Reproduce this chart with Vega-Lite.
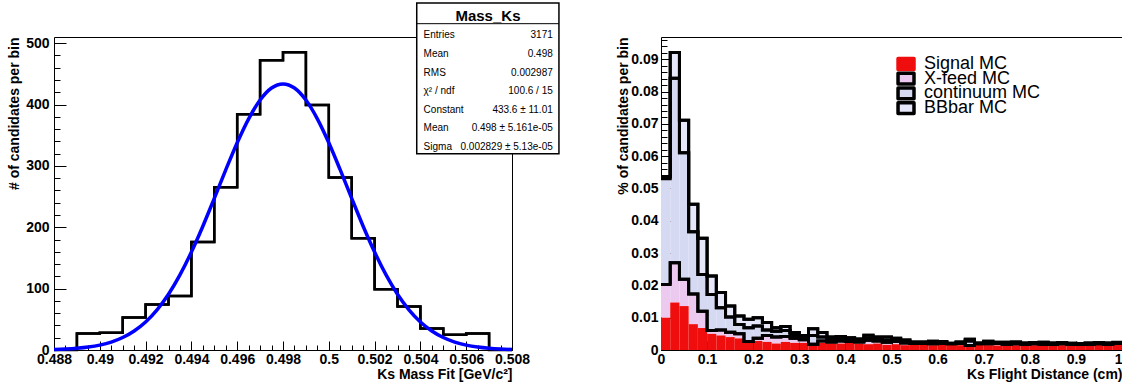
{
  "$schema": "https://vega.github.io/schema/vega-lite/v6.json",
  "background": "white",
  "padding": {"left": 7, "top": 1, "right": 0, "bottom": 0},
  "bounds": "flush",
  "spacing": 149,
  "config": {
    "font": "Liberation Sans",
    "view": {"stroke": "black", "strokeWidth": 1},
    "axis": {
      "grid": false, "domain": false, "labelOverlap": false, "labelFlush": false,
      "labelFont": "Liberation Sans", "labelFontSize": 14, "labelFontWeight": "bold", "labelColor": "black",
      "titleFont": "Liberation Sans", "titleFontSize": 14, "titleFontWeight": "bold", "titleColor": "black",
      "tickColor": "black", "tickWidth": 1
    },
    "text": {"font": "Liberation Sans", "color": "black"}
  },
  "hconcat": [
    {
      "width": 458,
      "height": 313,
      "data": {"values": [
        {"lo": 0.488, "hi": 0.489, "n": 0},
        {"lo": 0.489, "hi": 0.490, "n": 27},
        {"lo": 0.490, "hi": 0.491, "n": 28},
        {"lo": 0.491, "hi": 0.492, "n": 53},
        {"lo": 0.492, "hi": 0.493, "n": 74},
        {"lo": 0.493, "hi": 0.494, "n": 88},
        {"lo": 0.494, "hi": 0.495, "n": 176},
        {"lo": 0.495, "hi": 0.496, "n": 265},
        {"lo": 0.496, "hi": 0.497, "n": 384},
        {"lo": 0.497, "hi": 0.498, "n": 472},
        {"lo": 0.498, "hi": 0.499, "n": 485},
        {"lo": 0.499, "hi": 0.500, "n": 399},
        {"lo": 0.500, "hi": 0.501, "n": 281},
        {"lo": 0.501, "hi": 0.502, "n": 182},
        {"lo": 0.502, "hi": 0.503, "n": 99},
        {"lo": 0.503, "hi": 0.504, "n": 71},
        {"lo": 0.504, "hi": 0.505, "n": 35},
        {"lo": 0.505, "hi": 0.506, "n": 25},
        {"lo": 0.506, "hi": 0.507, "n": 27},
        {"lo": 0.507, "hi": 0.508, "n": 0}
      ]},
      "resolve": {"scale": {"y": "independent"}, "axis": {"x": "independent", "y": "independent"}},
      "layer": [
        {
          "mark": {"type": "line", "interpolate": "step-after", "color": "black", "strokeWidth": 2.5},
          "encoding": {
            "x": {"field": "lo", "type": "quantitative",
              "scale": {"domain": [0.488, 0.508], "nice": false, "zero": false},
              "axis": {"orient": "bottom", "values": [0.488, 0.49, 0.492, 0.494, 0.496, 0.498, 0.5, 0.502, 0.504, 0.506, 0.508],
                "format": "~g", "tickSize": -9, "labelPadding": 11, "title": "Ks Mass Fit [GeV/c²]", "titleAnchor": "end", "titlePadding": 1}},
            "y": {"field": "n", "type": "quantitative",
              "scale": {"domain": [0, 510], "nice": false, "zero": true},
              "axis": {"orient": "left", "values": [0, 100, 200, 300, 400, 500], "tickSize": -12, "labelPadding": 17,
                "title": "# of candidates per bin", "titleAnchor": "end", "titlePadding": 4}}
          }
        },
        {
          "mark": {"type": "line", "interpolate": "step-before", "color": "black", "strokeWidth": 2.5},
          "encoding": {
            "x": {"field": "hi", "type": "quantitative",
              "scale": {"domain": [0.488, 0.508], "nice": false, "zero": false},
              "axis": {"orient": "bottom", "values": [0.488,0.4885,0.489,0.4895,0.49,0.4905,0.491,0.4915,0.492,0.4925,0.493,0.4935,0.494,0.4945,0.495,0.4955,0.496,0.4965,0.497,0.4975,0.498,0.4985,0.499,0.4995,0.5,0.5005,0.501,0.5015,0.502,0.5025,0.503,0.5035,0.504,0.5045,0.505,0.5055,0.506,0.5065,0.507,0.5075,0.508],
                "tickSize": -5, "labels": false, "title": null}},
            "y": {"field": "n", "type": "quantitative",
              "scale": {"domain": [0, 510], "nice": false, "zero": true},
              "axis": {"orient": "left", "values": [0,20,40,60,80,100,120,140,160,180,200,220,240,260,280,300,320,340,360,380,400,420,440,460,480,500],
                "tickSize": -6, "labels": false, "title": null}}
          }
        },
        {
          "data": {"values": [
            {"m": 0.488, "f": 0.84}, {"m": 0.4885, "f": 1.54}, {"m": 0.489, "f": 2.75}, {"m": 0.4895, "f": 4.75},
            {"m": 0.49, "f": 7.96}, {"m": 0.4905, "f": 12.9}, {"m": 0.491, "f": 20.3}, {"m": 0.4915, "f": 31.0},
            {"m": 0.492, "f": 45.7}, {"m": 0.4925, "f": 65.5}, {"m": 0.493, "f": 90.9}, {"m": 0.4935, "f": 122.4},
            {"m": 0.494, "f": 159.6}, {"m": 0.4945, "f": 201.7}, {"m": 0.495, "f": 247.1}, {"m": 0.4955, "f": 293.4},
            {"m": 0.496, "f": 337.7}, {"m": 0.4965, "f": 376.7}, {"m": 0.497, "f": 407.3}, {"m": 0.4975, "f": 426.9},
            {"m": 0.498, "f": 433.6},
            {"m": 0.4985, "f": 426.9}, {"m": 0.499, "f": 407.3}, {"m": 0.4995, "f": 376.7}, {"m": 0.5, "f": 337.7},
            {"m": 0.5005, "f": 293.4}, {"m": 0.501, "f": 247.1}, {"m": 0.5015, "f": 201.7}, {"m": 0.502, "f": 159.6},
            {"m": 0.5025, "f": 122.4}, {"m": 0.503, "f": 90.9}, {"m": 0.5035, "f": 65.5}, {"m": 0.504, "f": 45.7},
            {"m": 0.5045, "f": 31.0}, {"m": 0.505, "f": 20.3}, {"m": 0.5055, "f": 12.9}, {"m": 0.506, "f": 7.96},
            {"m": 0.5065, "f": 4.75}, {"m": 0.507, "f": 2.75}, {"m": 0.5075, "f": 1.54}, {"m": 0.508, "f": 0.84}
          ]},
          "mark": {"type": "line", "interpolate": "monotone", "color": "#0000ff", "strokeWidth": 3.5},
          "encoding": {
            "x": {"field": "m", "type": "quantitative", "scale": {"domain": [0.488, 0.508], "nice": false, "zero": false}, "axis": null},
            "y": {"field": "f", "type": "quantitative", "scale": {"domain": [0, 510], "nice": false, "zero": true}, "axis": null}
          }
        },
        {
          "data": {"values": [{"title": "Mass_Ks"}]},
          "layer": [
            {
              "mark": {"type": "rect", "fill": "white", "stroke": "black", "strokeWidth": 1.5},
              "encoding": {
                "x": {"datum": 0.50384, "type": "quantitative", "scale": {"domain": [0.488, 0.508], "nice": false, "zero": false}, "axis": null},
                "x2": {"datum": 0.51005},
                "y": {"datum": 565.4, "type": "quantitative", "scale": {"domain": [0, 510], "nice": false, "zero": true}, "axis": null},
                "y2": {"datum": 319.9}
              }
            },
            {
              "mark": {"type": "rule", "color": "black", "strokeWidth": 1},
              "encoding": {
                "x": {"datum": 0.50384, "type": "quantitative", "scale": {"domain": [0.488, 0.508], "nice": false, "zero": false}, "axis": null},
                "x2": {"datum": 0.51005},
                "y": {"datum": 531.7, "type": "quantitative", "scale": {"domain": [0, 510], "nice": false, "zero": true}, "axis": null}
              }
            },
            {
              "mark": {"type": "text", "fontSize": 15, "fontWeight": "bold", "align": "center", "baseline": "middle"},
              "encoding": {
                "x": {"datum": 0.50695, "type": "quantitative", "scale": {"domain": [0.488, 0.508], "nice": false, "zero": false}, "axis": null},
                "y": {"datum": 544.2, "type": "quantitative", "scale": {"domain": [0, 510], "nice": false, "zero": true}, "axis": null},
                "text": {"field": "title"}
              }
            }
          ]
        },
        {
          "data": {"values": [
            {"row": 1, "label": "Entries", "value": "3171"},
            {"row": 2, "label": "Mean", "value": "0.498"},
            {"row": 3, "label": "RMS", "value": "0.002987"},
            {"row": 4, "label": "χ² / ndf", "value": "100.6 / 15"},
            {"row": 5, "label": "Constant", "value": "433.6 ± 11.01"},
            {"row": 6, "label": "Mean", "value": "0.498 ± 5.161e-05"},
            {"row": 7, "label": "Sigma", "value": "0.002829 ± 5.13e-05"}
          ]},
          "layer": [
            {
              "mark": {"type": "text", "fontSize": 10, "align": "left", "baseline": "middle"},
              "encoding": {
                "x": {"datum": 0.50414, "type": "quantitative", "scale": {"domain": [0.488, 0.508], "nice": false, "zero": false}, "axis": null},
                "y": {"field": "row", "type": "quantitative", "scale": {"domain": [1.0914, 17.919], "reverse": true, "nice": false, "zero": false}, "axis": null},
                "text": {"field": "label"}
              }
            },
            {
              "mark": {"type": "text", "fontSize": 10, "align": "right", "baseline": "middle"},
              "encoding": {
                "x": {"datum": 0.50978, "type": "quantitative", "scale": {"domain": [0.488, 0.508], "nice": false, "zero": false}, "axis": null},
                "y": {"field": "row", "type": "quantitative", "scale": {"domain": [1.0914, 17.919], "reverse": true, "nice": false, "zero": false}, "axis": null},
                "text": {"field": "value"}
              }
            }
          ]
        }
      ]
    },
    {
      "width": 461,
      "height": 313,
      "data": {"values": [
        {"lo": 0.00, "hi": 0.02, "sig": 0.0100, "xf": 0.0203, "cont": 0.0530, "tot": 0.0537},
        {"lo": 0.02, "hi": 0.04, "sig": 0.0147, "xf": 0.0270, "cont": 0.0841, "tot": 0.0921},
        {"lo": 0.04, "hi": 0.06, "sig": 0.0136, "xf": 0.0219, "cont": 0.0611, "tot": 0.0711},
        {"lo": 0.06, "hi": 0.08, "sig": 0.0080, "xf": 0.0173, "cont": 0.0366, "tot": 0.0451},
        {"lo": 0.08, "hi": 0.10, "sig": 0.0068, "xf": 0.0120, "cont": 0.0234, "tot": 0.0346},
        {"lo": 0.10, "hi": 0.12, "sig": 0.0050, "xf": 0.0060, "cont": 0.0172, "tot": 0.0229},
        {"lo": 0.12, "hi": 0.14, "sig": 0.0045, "xf": 0.0062, "cont": 0.0131, "tot": 0.0178},
        {"lo": 0.14, "hi": 0.16, "sig": 0.0040, "xf": 0.0055, "cont": 0.0102, "tot": 0.0136},
        {"lo": 0.16, "hi": 0.18, "sig": 0.0036, "xf": 0.0050, "cont": 0.0079, "tot": 0.0105},
        {"lo": 0.18, "hi": 0.20, "sig": 0.0023, "xf": 0.0026, "cont": 0.0069, "tot": 0.0095},
        {"lo": 0.20, "hi": 0.22, "sig": 0.0028, "xf": 0.0036, "cont": 0.0074, "tot": 0.0100},
        {"lo": 0.22, "hi": 0.24, "sig": 0.0025, "xf": 0.0045, "cont": 0.0062, "tot": 0.0085},
        {"lo": 0.24, "hi": 0.26, "sig": 0.0020, "xf": 0.0040, "cont": 0.0058, "tot": 0.0069},
        {"lo": 0.26, "hi": 0.28, "sig": 0.0025, "xf": 0.0042, "cont": 0.0060, "tot": 0.0073},
        {"lo": 0.28, "hi": 0.30, "sig": 0.0022, "xf": 0.0036, "cont": 0.0045, "tot": 0.0054},
        {"lo": 0.30, "hi": 0.32, "sig": 0.0022, "xf": 0.0032, "cont": 0.0040, "tot": 0.0045},
        {"lo": 0.32, "hi": 0.34, "sig": 0.0015, "xf": 0.0018, "cont": 0.0045, "tot": 0.0066},
        {"lo": 0.34, "hi": 0.36, "sig": 0.0022, "xf": 0.0028, "cont": 0.0040, "tot": 0.0054},
        {"lo": 0.36, "hi": 0.38, "sig": 0.0021, "xf": 0.0025, "cont": 0.0033, "tot": 0.0040},
        {"lo": 0.38, "hi": 0.40, "sig": 0.0020, "xf": 0.0028, "cont": 0.0035, "tot": 0.0042},
        {"lo": 0.40, "hi": 0.42, "sig": 0.0022, "xf": 0.0026, "cont": 0.0030, "tot": 0.0038},
        {"lo": 0.42, "hi": 0.44, "sig": 0.0020, "xf": 0.0025, "cont": 0.0028, "tot": 0.0034},
        {"lo": 0.44, "hi": 0.46, "sig": 0.0018, "xf": 0.0030, "cont": 0.0036, "tot": 0.0046},
        {"lo": 0.46, "hi": 0.48, "sig": 0.0020, "xf": 0.0028, "cont": 0.0033, "tot": 0.0040},
        {"lo": 0.48, "hi": 0.50, "sig": 0.0016, "xf": 0.0024, "cont": 0.0030, "tot": 0.0040},
        {"lo": 0.50, "hi": 0.52, "sig": 0.0018, "xf": 0.0026, "cont": 0.0028, "tot": 0.0036},
        {"lo": 0.52, "hi": 0.54, "sig": 0.0015, "xf": 0.0022, "cont": 0.0026, "tot": 0.0031},
        {"lo": 0.54, "hi": 0.56, "sig": 0.0017, "xf": 0.0020, "cont": 0.0022, "tot": 0.0025},
        {"lo": 0.56, "hi": 0.58, "sig": 0.0016, "xf": 0.0020, "cont": 0.0021, "tot": 0.0025},
        {"lo": 0.58, "hi": 0.60, "sig": 0.0015, "xf": 0.0019, "cont": 0.0023, "tot": 0.0027},
        {"lo": 0.60, "hi": 0.62, "sig": 0.0017, "xf": 0.0021, "cont": 0.0022, "tot": 0.0026},
        {"lo": 0.62, "hi": 0.64, "sig": 0.0016, "xf": 0.0019, "cont": 0.0020, "tot": 0.0021},
        {"lo": 0.64, "hi": 0.66, "sig": 0.0015, "xf": 0.0020, "cont": 0.0022, "tot": 0.0025},
        {"lo": 0.66, "hi": 0.68, "sig": 0.0012, "xf": 0.0014, "cont": 0.0028, "tot": 0.0033},
        {"lo": 0.68, "hi": 0.70, "sig": 0.0016, "xf": 0.0019, "cont": 0.0020, "tot": 0.0022},
        {"lo": 0.70, "hi": 0.72, "sig": 0.0015, "xf": 0.0019, "cont": 0.0023, "tot": 0.0027},
        {"lo": 0.72, "hi": 0.74, "sig": 0.0014, "xf": 0.0020, "cont": 0.0021, "tot": 0.0024},
        {"lo": 0.74, "hi": 0.76, "sig": 0.0016, "xf": 0.0018, "cont": 0.0020, "tot": 0.0024},
        {"lo": 0.76, "hi": 0.78, "sig": 0.0015, "xf": 0.0019, "cont": 0.0021, "tot": 0.0025},
        {"lo": 0.78, "hi": 0.80, "sig": 0.0014, "xf": 0.0018, "cont": 0.0019, "tot": 0.0022},
        {"lo": 0.80, "hi": 0.82, "sig": 0.0015, "xf": 0.0019, "cont": 0.0020, "tot": 0.0023},
        {"lo": 0.82, "hi": 0.84, "sig": 0.0016, "xf": 0.0018, "cont": 0.0021, "tot": 0.0024},
        {"lo": 0.84, "hi": 0.86, "sig": 0.0014, "xf": 0.0017, "cont": 0.0019, "tot": 0.0022},
        {"lo": 0.86, "hi": 0.88, "sig": 0.0015, "xf": 0.0019, "cont": 0.0020, "tot": 0.0023},
        {"lo": 0.88, "hi": 0.90, "sig": 0.0013, "xf": 0.0018, "cont": 0.0019, "tot": 0.0021},
        {"lo": 0.90, "hi": 0.92, "sig": 0.0015, "xf": 0.0017, "cont": 0.0018, "tot": 0.0020},
        {"lo": 0.92, "hi": 0.94, "sig": 0.0014, "xf": 0.0018, "cont": 0.0019, "tot": 0.0022},
        {"lo": 0.94, "hi": 0.96, "sig": 0.0016, "xf": 0.0019, "cont": 0.0020, "tot": 0.0023},
        {"lo": 0.96, "hi": 0.98, "sig": 0.0017, "xf": 0.0018, "cont": 0.0019, "tot": 0.0022},
        {"lo": 0.98, "hi": 1.00, "sig": 0.0018, "xf": 0.0020, "cont": 0.0021, "tot": 0.0024}
      ]},
      "resolve": {"scale": {"y": "independent"}, "axis": {"y": "independent"}},
      "layer": [
        {
          "mark": {"type": "rect", "color": "#e6e8fa"},
          "encoding": {
            "x": {"field": "lo", "type": "quantitative", "scale": {"domain": [0, 1], "nice": false, "zero": false},
              "axis": {"orient": "bottom", "values": [0, 0.1, 0.2, 0.3, 0.4, 0.5, 0.6, 0.7, 0.8, 0.9, 1], "format": "~g",
                "tickSize": -9, "labelPadding": 11,
                "labelAlign": {"condition": {"test": "datum.value >= 1", "value": "right"}, "value": "center"},
                "title": "Ks Flight Distance (cm)", "titleAnchor": "end", "titlePadding": 1}},
            "x2": {"field": "hi"},
            "y": {"field": "cont", "type": "quantitative", "scale": {"domain": [0, 0.0969], "nice": false, "zero": true},
              "axis": {"orient": "left", "values": [0, 0.01, 0.02, 0.03, 0.04, 0.05, 0.06, 0.07, 0.08, 0.09], "format": "~g",
                "tickSize": -11, "labelPadding": 14, "title": "% of candidates per bin", "titleAnchor": "end", "titlePadding": 0}},
            "y2": {"field": "tot"}
          }
        },
        {
          "mark": {"type": "rect", "color": "#d6d9f2"},
          "encoding": {
            "x": {"field": "lo", "type": "quantitative", "scale": {"domain": [0, 1], "nice": false, "zero": false}},
            "x2": {"field": "hi"},
            "y": {"field": "xf", "type": "quantitative", "scale": {"domain": [0, 0.0969], "nice": false, "zero": true},
              "axis": {"orient": "left", "values": [0,0.002,0.004,0.006,0.008,0.01,0.012,0.014,0.016,0.018,0.02,0.022,0.024,0.026,0.028,0.03,0.032,0.034,0.036,0.038,0.04,0.042,0.044,0.046,0.048,0.05,0.052,0.054,0.056,0.058,0.06,0.062,0.064,0.066,0.068,0.07,0.072,0.074,0.076,0.078,0.08,0.082,0.084,0.086,0.088,0.09,0.092,0.094,0.096],
                "tickSize": -6, "labels": false, "title": null}},
            "y2": {"field": "cont"}
          }
        },
        {
          "mark": {"type": "rect", "color": "#ecc9ef"},
          "encoding": {
            "x": {"field": "lo", "type": "quantitative", "scale": {"domain": [0, 1], "nice": false, "zero": false}},
            "x2": {"field": "hi"},
            "y": {"field": "sig", "type": "quantitative", "scale": {"domain": [0, 0.0969], "nice": false, "zero": true}, "axis": null},
            "y2": {"field": "xf"}
          }
        },
        {
          "mark": {"type": "rect", "color": "#f00d0d"},
          "encoding": {
            "x": {"field": "lo", "type": "quantitative", "scale": {"domain": [0, 1], "nice": false, "zero": false}},
            "x2": {"field": "hi"},
            "y": {"field": "sig", "type": "quantitative", "scale": {"domain": [0, 0.0969], "nice": false, "zero": true}, "axis": null},
            "y2": {"datum": 0}
          }
        },
        {
          "transform": [{"fold": ["xf", "cont", "tot"], "as": ["level", "top"]}],
          "mark": {"type": "line", "interpolate": "step-after", "color": "black", "strokeWidth": 3},
          "encoding": {
            "x": {"field": "lo", "type": "quantitative", "scale": {"domain": [0, 1], "nice": false, "zero": false}},
            "y": {"field": "top", "type": "quantitative", "scale": {"domain": [0, 0.0969], "nice": false, "zero": true}, "axis": null},
            "detail": {"field": "level", "type": "nominal"}
          }
        },
        {
          "transform": [{"fold": ["xf", "cont", "tot"], "as": ["level", "top"]}],
          "mark": {"type": "line", "interpolate": "step-before", "color": "black", "strokeWidth": 3},
          "encoding": {
            "x": {"field": "hi", "type": "quantitative", "scale": {"domain": [0, 1], "nice": false, "zero": false}},
            "y": {"field": "top", "type": "quantitative", "scale": {"domain": [0, 0.0969], "nice": false, "zero": true}, "axis": null},
            "detail": {"field": "level", "type": "nominal"}
          }
        },
        {
          "data": {"values": [
            {"row": 1, "name": "Signal MC"},
            {"row": 2, "name": "X-feed MC"},
            {"row": 3, "name": "continuum MC"},
            {"row": 4, "name": "BBbar MC"}
          ]},
          "layer": [
            {
              "mark": {"type": "point", "shape": "M-1.33,-0.9H1.33V0.9H-1.33Z", "size": 144, "filled": true, "opacity": 1, "strokeWidth": 3.5, "strokeJoin": "round"},
              "encoding": {
                "x": {"datum": 0.5315, "type": "quantitative", "scale": {"domain": [0, 1], "nice": false, "zero": false}},
                "y": {"field": "row", "type": "quantitative", "scale": {"domain": [-0.837, 20.46], "reverse": true, "nice": false, "zero": false}, "axis": null},
                "fill": {"field": "name", "type": "nominal",
                  "scale": {"domain": ["Signal MC", "X-feed MC", "continuum MC", "BBbar MC"], "range": ["#f00d0d", "#ecc9ef", "#d6d9f2", "#e6e8fa"]}, "legend": null},
                "stroke": {"field": "name", "type": "nominal",
                  "scale": {"domain": ["Signal MC", "X-feed MC", "continuum MC", "BBbar MC"], "range": ["#f00d0d", "black", "black", "black"]}, "legend": null}
              }
            },
            {
              "mark": {"type": "text", "fontSize": 18, "align": "left", "baseline": "middle"},
              "encoding": {
                "x": {"datum": 0.5705, "type": "quantitative", "scale": {"domain": [0, 1], "nice": false, "zero": false}},
                "y": {"field": "row", "type": "quantitative", "scale": {"domain": [-0.837, 20.46], "reverse": true, "nice": false, "zero": false}, "axis": null},
                "text": {"field": "name"}
              }
            }
          ]
        }
      ]
    }
  ]
}
